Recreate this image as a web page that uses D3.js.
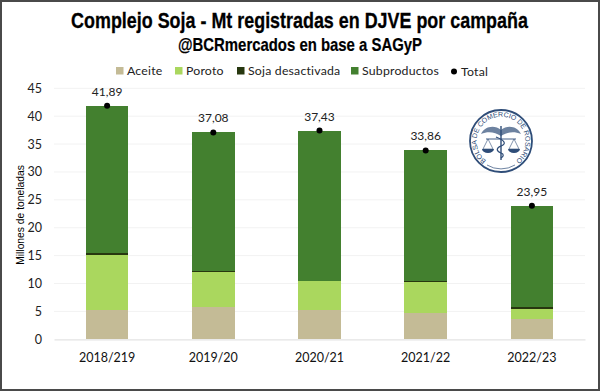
<!DOCTYPE html>
<html><head><meta charset="utf-8">
<script src="https://cdn.jsdelivr.net/npm/d3@7"></script>
<style>html,body{margin:0;padding:0;background:#fff}svg{display:block}</style></head>
<body><svg id="c" width="600" height="391"></svg>
<script>
const campaigns = ["2018/219","2019/20","2020/21","2021/22","2022/23"];
const aceite = [5.2,5.73,5.2,4.77,3.64];
const poroto = [10.0,6.3,5.2,5.45,1.85];
const desactivada = [0.2,0.2,0.05,0.15,0.25];
const subproductos = [26.49,24.85,26.98,23.49,18.21];
const total = [41.89,37.08,37.43,33.86,23.95];
const totalLabels = ["41,89","37,08","37,43","33,86","23,95"];
const yTicks = [0,5,10,15,20,25,30,35,40,45];
const seriesNames = ["Aceite","Poroto","Soja desactivada","Subproductos"];
const seriesColors = ["#c4bb96","#aad75e","#27370f","#43802f"];
const seriesValues = [aceite,poroto,desactivada,subproductos];

const svg = d3.select("#c");
const FONT = "Lato, Carlito, sans-serif";
const x = d3.scaleBand().domain(campaigns).range([54,585]).paddingInner(0.6).paddingOuter(0.3);
const y = d3.scaleLinear().domain([0,45]).range([339.3,88.3]);

svg.append("rect").attr("x",1).attr("y",1).attr("width",598).attr("height",389)
  .attr("fill","#fff").attr("stroke","#4a4a4a").attr("stroke-width",2);

// condensed headline: no narrow bold face is installed, so scale horizontally to the reference's width
function fitText(txt, left, width, base, size, sw){
  const t = svg.append("text").attr("font-family","'Liberation Sans', sans-serif").attr("font-weight",700)
    .attr("font-size",size).attr("fill","#000").attr("stroke","#000").attr("stroke-width",sw)
    .attr("text-anchor","middle").text(txt);
  const w = t.node().getComputedTextLength();
  t.attr("transform",`translate(${left+width/2},${base}) scale(${width/w},1)`);
}
fitText("Complejo Soja - Mt registradas en DJVE por campaña",71,457,27.5,22.5,0.3);
fitText("@BCRmercados en base a SAGyP",178,244,51,17.5,0.2);

// grid
svg.append("g").selectAll("line").data(yTicks.filter(d=>d>0)).join("line")
  .attr("x1",54).attr("x2",585).attr("y1",d=>y(d)).attr("y2",d=>y(d))
  .attr("stroke","#f2f2f2").attr("stroke-width",1);

// axes
const gy = svg.append("g").attr("transform","translate(54,0)")
  .call(d3.axisLeft(y).tickValues(yTicks).tickSize(0).tickPadding(12));
gy.select(".domain").remove();
gy.selectAll("text").attr("font-family",FONT).attr("font-size",12.5).attr("fill","#222");

// stacks
const rows = campaigns.map((c,i)=>{const r={c};seriesNames.forEach((n,k)=>r[n]=seriesValues[k][i]);return r;});
const stack = d3.stack().keys(seriesNames)(rows);
svg.append("g").attr("shape-rendering","crispEdges").selectAll("g").data(stack).join("g")
  .attr("fill",(d,i)=>seriesColors[i])
  .selectAll("rect").data(d=>d).join("rect")
  .attr("x",d=>x(d.data.c)).attr("width",x.bandwidth())
  .attr("y",d=>y(d[1])).attr("height",d=>y(d[0])-y(d[1]));

const gx = svg.append("g").attr("transform","translate(0,339.3)")
  .call(d3.axisBottom(x).tickSize(0).tickPadding(14));
gx.select(".domain").attr("stroke","#e3e3e3").attr("stroke-width",1.2);
gx.selectAll("text").attr("font-family",FONT).attr("font-size",12.5).attr("fill","#111");

// total points
const cx = c=>x(c)+x.bandwidth()/2;
svg.append("g").selectAll("circle").data(campaigns).join("circle")
  .attr("cx",cx).attr("cy",(c,i)=>y(total[i])).attr("r",3).attr("fill","#000");
svg.append("g").selectAll("text").data(campaigns).join("text")
  .attr("x",cx).attr("y",(c,i)=>y(total[i])-10).attr("text-anchor","middle")
  .attr("font-family",FONT).attr("font-size",12).attr("fill","#222").text((c,i)=>totalLabels[i]);

// y title
svg.append("text").attr("transform","translate(24,215) rotate(-90)").attr("text-anchor","middle")
  .attr("font-family","'Liberation Sans', sans-serif").attr("font-size",10.3).attr("fill","#000").text("Millones de toneladas");

// legend
const legendX = [116,175,237,351];
const lg = svg.append("g").selectAll("g").data(seriesNames).join("g")
  .attr("transform",(d,i)=>`translate(${legendX[i]},71)`);
lg.append("rect").attr("y",-4).attr("width",7.5).attr("height",7.5).attr("fill",(d,i)=>seriesColors[i]);
lg.append("text").attr("x",11).attr("y",4).attr("font-family",FONT).attr("font-size",12.3)
  .attr("letter-spacing",0.2).attr("fill","#222").text(d=>d);
const lt = svg.append("g").attr("transform","translate(454,71.5)");
lt.append("circle").attr("cx",0).attr("r",3).attr("fill","#000");
lt.append("text").attr("x",7).attr("y",4).attr("font-family",FONT).attr("font-size",12.3)
  .attr("letter-spacing",0.2).attr("fill","#222").text("Total");

// logo
const logo = svg.append("g").attr("transform","translate(501,141)");
const navy="#2f4d78";
logo.append("circle").attr("r",31).attr("fill","#fff").attr("stroke",navy).attr("stroke-width",1.8);
logo.append("path").attr("id","logoArc").attr("d","M -16 18.5 A 24.4 24.4 0 1 1 16 18.5").attr("fill","none");
logo.append("text").attr("font-family","'Liberation Sans', sans-serif").attr("font-size",7).attr("fill",navy)
  .attr("text-anchor","middle")
  .append("textPath").attr("href","#logoArc").attr("startOffset","50%").text("BOLSA DE COMERCIO DE ROSARIO");
logo.append("path").attr("d","M-14 24 A27 27 0 0 0 14 24").attr("fill","none").attr("stroke",navy).attr("stroke-width",0.7);
// wings
logo.append("path").attr("d","M0 -11 C-7 -17 -17 -14 -20 -7 C-13 -10 -6 -9 0 -5 C6 -9 13 -10 20 -7 C17 -14 7 -17 0 -11Z").attr("fill",navy).attr("opacity",0.7);
// staff
logo.append("line").attr("y1",-15).attr("y2",19).attr("stroke",navy).attr("stroke-width",1.4);
logo.append("path").attr("d","M-5 -4 C5 0 5 3 0 5 C-5 7 -5 10 0 12 C3 13 3 15 0 17").attr("fill","none").attr("stroke",navy).attr("stroke-width",1.2);
// scales
logo.append("line").attr("x1",-15).attr("x2",15).attr("y1",-2).attr("y2",-2).attr("stroke",navy).attr("stroke-width",0.9);
[-13,13].forEach(s=>{
  logo.append("path").attr("d",`M${s} -2 L${s-5} 8 L${s+5} 8 Z`).attr("fill","none").attr("stroke",navy).attr("stroke-width",0.6);
  logo.append("path").attr("d",`M${s-6} 8 A6 4 0 0 0 ${s+6} 8 Z`).attr("fill",navy);
});
</script></body></html>
